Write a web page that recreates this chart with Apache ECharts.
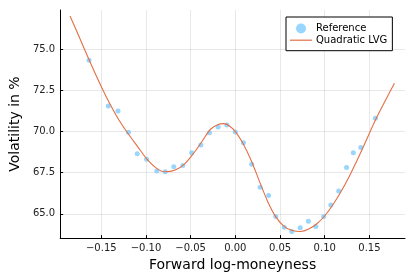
<!DOCTYPE html>
<html>
<head>
<meta charset="utf-8">
<script src="https://cdn.jsdelivr.net/npm/echarts@6/dist/echarts.min.js"></script>
<style>html,body{margin:0;padding:0;background:#fff}#c{width:415px;height:277px}</style>
</head>
<body>
<div id="c"></div>
<script>
// Reference points: forward log-moneyness and volatility (%)
const refX = [-0.1637,-0.1422,-0.1313,-0.1196,-0.1098,-0.0993,-0.0879,-0.0785,-0.0689,-0.0588,-0.0489,-0.0386,-0.0289,-0.0193,-0.0095,0.0000,0.0091,0.0183,0.0277,0.0372,0.0452,0.0547,0.0631,0.0725,0.0817,0.0900,0.0988,0.1068,0.1156,0.1244,0.1320,0.1403,0.1567];
const refY = [74.32,71.54,71.24,69.95,68.64,68.31,67.60,67.55,67.86,67.93,68.70,69.18,69.91,70.27,70.39,69.96,69.31,68.01,66.62,66.11,64.84,64.19,63.93,64.15,64.55,64.23,64.84,65.54,66.38,67.81,68.70,69.02,70.79];
// Quadratic LVG fitted curve
const fitX = [-0.1850,-0.1756,-0.1639,-0.1537,-0.1445,-0.1318,-0.1209,-0.1099,-0.0990,-0.0880,-0.0788,-0.0679,-0.0569,-0.0460,-0.0369,-0.0278,-0.0186,-0.0131,-0.0073,0.0000,0.0080,0.0182,0.0274,0.0365,0.0455,0.0547,0.0638,0.0729,0.0821,0.0912,0.1003,0.1095,0.1186,0.1277,0.1369,0.1460,0.1550,0.1642,0.1780];
const fitY = [77.00,75.84,74.37,73.14,72.10,70.83,69.93,69.12,68.32,67.76,67.55,67.64,68.02,68.72,69.42,70.13,70.43,70.47,70.36,69.99,69.32,68.18,66.91,65.71,64.80,64.23,63.99,63.93,64.08,64.40,64.90,65.58,66.38,67.30,68.32,69.40,70.50,71.50,72.92];

const xMin = -0.196, xMax = 0.1898, xStep = 0.05;
const yMin = 63.53, yMax = 77.36, yStep = 2.5;

const FONT = 'DejaVu Sans';
const chart = echarts.init(document.getElementById('c'), null, {renderer: 'canvas'});
const fmtX = v => (v < 0 ? '\u2212' : '') + Math.abs(v).toFixed(2);
chart.setOption({
  animation: false,
  textStyle: {fontFamily: FONT},
  grid: {left: 52.7, right: 10, top: 10, bottom: 38, containLabel: false},
  legend: {
    orient: 'vertical', left: 286, top: 17,
    itemWidth: 22, itemHeight: 10, itemGap: 1.7,
    padding: [6.5, 5, 5.5, 4],
    borderColor: '#000', borderWidth: 1, borderRadius: 0,
    backgroundColor: '#fff',
    textStyle: {fontFamily: FONT, fontSize: 10, color: '#000', padding: [0, 0, 0, -1]},
    data: [
      {name: 'Reference', icon: 'circle'},
      {name: 'Quadratic LVG', icon: 'path://M0,0L22,0L22,1.2L0,1.2Z'}
    ]
  },
  xAxis: {
    type: 'value', min: xMin, max: xMax, minInterval: xStep, maxInterval: xStep, splitNumber: 8,
    name: 'Forward log-moneyness', nameLocation: 'middle', nameGap: 17,
    nameTextStyle: {fontFamily: FONT, fontSize: 14, color: '#000'},
    axisLine: {show: true, onZero: false, lineStyle: {color: '#000', width: 1}},
    axisTick: {show: true, inside: true, length: 3, lineStyle: {color: '#000'}},
    axisLabel: {fontFamily: FONT, fontSize: 10, color: '#222', margin: 5, formatter: fmtX, showMinLabel: false, showMaxLabel: false},
    splitLine: {show: true, showMinLine: false, showMaxLine: false, lineStyle: {color: 'rgba(0,0,0,0.09)', width: 1}}
  },
  yAxis: {
    type: 'value', min: yMin, max: yMax, minInterval: yStep, maxInterval: yStep, splitNumber: 6,
    name: 'Volatility in %', nameLocation: 'middle', nameGap: 30,
    nameTextStyle: {fontFamily: FONT, fontSize: 14, color: '#000'},
    axisLine: {show: true, onZero: false, lineStyle: {color: '#000', width: 1}},
    axisTick: {show: true, inside: true, length: 3, lineStyle: {color: '#000'}},
    axisLabel: {fontFamily: FONT, fontSize: 10, color: '#222', margin: 5, formatter: v => v.toFixed(1), showMinLabel: false, showMaxLabel: false},
    splitLine: {show: true, showMinLine: false, showMaxLine: false, lineStyle: {color: 'rgba(0,0,0,0.09)', width: 1}}
  },
  series: [
    {
      name: 'Reference', type: 'scatter', symbol: 'circle', symbolSize: 5,
      itemStyle: {color: '#80ccfc'},
      data: refX.map((x, i) => [x, refY[i]]), z: 2
    },
    {
      name: 'Quadratic LVG', type: 'line', symbol: 'none', smooth: 0.3,
      lineStyle: {color: '#e26f46', width: 1.1},
      itemStyle: {color: '#e26f46'},
      data: fitX.map((x, i) => [x, fitY[i]]), z: 3
    }
  ]
});
</script>
</body>
</html>
